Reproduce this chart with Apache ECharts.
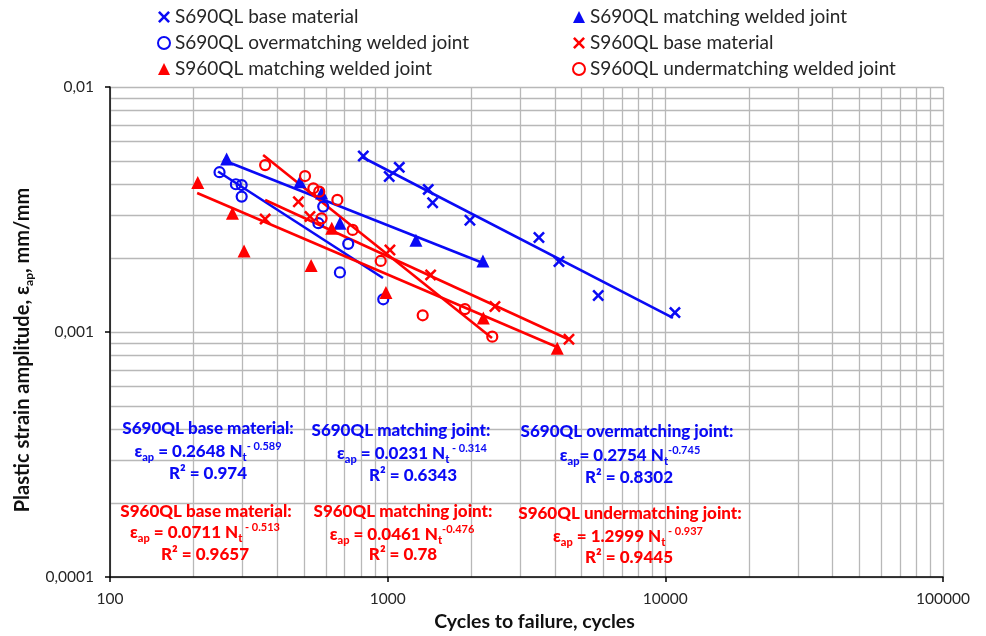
<!DOCTYPE html>
<html><head><meta charset="utf-8">
<script src="https://cdn.jsdelivr.net/npm/echarts@6/dist/echarts.min.js"></script>
<style>html,body{margin:0;padding:0;background:#fff}#c{width:986px;height:636px}</style>
</head><body><div id="c"></div>
<script>
const FONT = "Lato, 'Open Sans', 'Liberation Sans', sans-serif";
const BLUE = '#0a0af5';
const RED = '#ff0000';

// ---- data ----
const seriesNames = ['S690QL base material', 'S690QL matching welded joint', 'S690QL overmatching welded joint',
                     'S960QL base material', 'S960QL matching welded joint', 'S960QL undermatching welded joint'];

const s690BaseN = [817, 1013, 1101, 1400, 1452, 1978, 3506, 4139, 5733, 10829];
const s690BaseE = [0.00523, 0.00431, 0.00470, 0.00382, 0.00337, 0.00286, 0.00243, 0.00194, 0.00141, 0.00120];

const s690MatchN = [263, 483, 578, 673, 1264, 2204];
const s690MatchE = [0.00508, 0.00410, 0.00369, 0.00278, 0.00237, 0.00195];

const s690OverN = [248, 284, 298, 298, 586, 563, 721, 673, 964];
const s690OverE = [0.00449, 0.00401, 0.00398, 0.00357, 0.00325, 0.00278, 0.00229, 0.00175, 0.00136];

const s960BaseN = [362, 477, 525, 1019, 1428, 2434, 4497];
const s960BaseE = [0.00289, 0.00340, 0.00296, 0.00216, 0.00171, 0.00127, 0.000934];

const s960MatchN = [207, 276, 304, 530, 629, 986, 2210, 4080];
const s960MatchE = [0.00408, 0.00305, 0.00214, 0.00187, 0.00265, 0.00145, 0.00114, 0.000858];

const s960UnderN = [362, 504, 540, 567, 659, 578, 748, 944, 1337, 1898, 2381];
const s960UnderE = [0.00480, 0.00433, 0.00386, 0.00374, 0.00346, 0.00291, 0.00261, 0.00195, 0.00117, 0.00124, 0.000957];

// trend lines: [start, end]
const fit690BaseN = [808, 10652];   const fit690BaseE = [0.00518, 0.001141];
const fit690MatchN = [255, 2204];   const fit690MatchE = [0.005035, 0.001912];
const fit690OverN = [245, 962];     const fit690OverE = [0.00452, 0.001661];
const fit960BaseN = [362, 4534];    const fit960BaseE = [0.003458, 0.000928];
const fit960MatchN = [206, 4070];   const fit960MatchE = [0.003693, 0.000869];
const fit960UnderN = [356, 2375];   const fit960UnderE = [0.005278, 0.000945];

const xTickLabels = ['100', '1000', '10000', '100000'];
const yTickLabels = ['0,0001', '0,001', '0,01'];

// equation annotations
const eqTitle = ['S690QL base material:', 'S690QL matching joint:', 'S690QL overmatching joint:',
                 'S960QL base material:', 'S960QL matching joint:', 'S960QL undermatching joint:'];
const eqSign  = [' = ', ' = ', '= ', ' = ', ' = ', ' = '];
const eqCoef  = ['0.2648', '0.0231', '0.2754', '0.0711', '0.0461', '1.2999'];
const eqExp   = ['- 0.589', ' - 0.314', '-0.745', ' - 0.513', '-0.476', ' - 0.937'];
const eqR2    = ['0.974', '0.6343', '0.8302', '0.9657', '0.78', '0.9445'];
const eqColor = [BLUE, BLUE, BLUE, RED, RED, RED];

// ---- layout (pixel positions of annotation lines) ----
const eqPos = [
  {tx: 208, ty: 429, ex: 208, ey: 452, rx: 208, ry: 474},
  {tx: 401, ty: 431, ex: 412, ey: 454, rx: 413, ry: 476},
  {tx: 627, ty: 432, ex: 630, ey: 456, rx: 629, ry: 478},
  {tx: 206, ty: 512, ex: 205, ey: 533, rx: 205, ry: 555},
  {tx: 403, ty: 512, ex: 402, ey: 535, rx: 403, ry: 555},
  {tx: 630, ty: 514, ex: 628, ey: 537, rx: 629, ry: 558}
];

const pair = (a, b) => a.map((v, i) => [v, b[i]]);

const CROSS = 'path://M0,1.5L1.5,0L5,3.5L8.5,0L10,1.5L6.5,5L10,8.5L8.5,10L5,6.5L1.5,10L0,8.5L3.5,5Z';

function scatter(name, n, e, color, kind) {
  const s = {name: name, type: 'scatter', xAxisIndex: 0, yAxisIndex: 0, z: 5,
    data: pair(n, e)};
  if (kind === 'x') { s.symbol = CROSS; s.symbolSize = 12; s.itemStyle = {color: color, opacity: 1}; }
  if (kind === 'o') { s.symbol = 'circle'; s.symbolSize = 10; s.itemStyle = {color: 'rgba(255,255,255,0)', borderColor: color, borderWidth: 2.2, opacity: 1}; }
  if (kind === 't') { s.symbol = 'triangle'; s.symbolSize = 13; s.itemStyle = {color: color, opacity: 1}; }
  return s;
}
function fit(name, n, e, color) {
  return {name: name, type: 'line', xAxisIndex: 0, yAxisIndex: 0, z: 4, data: pair(n, e),
    showSymbol: false, symbol: 'none', silent: true,
    lineStyle: {color: color, width: 2.6}, itemStyle: {color: color}};
}

// gridline positions (1..9 x 10^k)
const xGridVals = [];
for (let k = 2; k <= 4; k++) for (let m = 1; m <= 9; m++) xGridVals.push(m * Math.pow(10, k));
xGridVals.push(100000);
const yGridVals = [];
for (let k = -4; k <= -3; k++) for (let m = 1; m <= 9; m++) yGridVals.push(+(m * Math.pow(10, k)).toPrecision(3));
yGridVals.push(0.01);

function fmtX(v) { const k = Math.round(Math.log10(v)); return xTickLabels[k - 2] || ''; }
function fmtY(v) { const k = Math.round(Math.log10(v)); return yTickLabels[k + 4] || ''; }

const titles = [];
eqTitle.forEach((t, i) => {
  const c = eqColor[i], p = eqPos[i];
  const rich = {
    m: {fontSize: 17, fontWeight: 900, fontFamily: FONT, color: c, lineHeight: 22},
    s: {fontSize: 11, fontWeight: 900, fontFamily: FONT, color: c, lineHeight: 10, verticalAlign: 'bottom'},
    p: {fontSize: 11, fontWeight: 'bold', fontFamily: FONT, color: c, lineHeight: 12, verticalAlign: 'top'}
  };
  const base = {textAlign: 'center', textVerticalAlign: 'middle', padding: 0, z: 10};
  titles.push(Object.assign({}, base, {left: p.tx, top: p.ty, text: '{m|' + t + '}', textStyle: {rich: rich}}));
  titles.push(Object.assign({}, base, {left: p.ex, top: p.ey,
    text: '{m|ε}{s|ap}{m|' + eqSign[i] + eqCoef[i] + ' N}{s|t}{p|' + eqExp[i] + '}', textStyle: {rich: rich}}));
  titles.push(Object.assign({}, base, {left: p.rx, top: p.ry, text: '{m|R² = ' + eqR2[i] + '}', textStyle: {rich: rich}}));
});

const legendText = {fontFamily: FONT, fontSize: 19, color: '#262626', lineHeight: 20};

const option = {
  animation: false,
  backgroundColor: '#ffffff',
  title: titles,
  legend: [
    {data: [seriesNames[0], seriesNames[2], seriesNames[4]], orient: 'vertical', left: 157, top: 7,
     itemWidth: 12, itemHeight: 12, itemGap: 6, textStyle: legendText, selectedMode: false, padding: 0},
    {data: [seriesNames[1], seriesNames[3], seriesNames[5]], orient: 'vertical', left: 572, top: 7,
     itemWidth: 12, itemHeight: 12, itemGap: 6, textStyle: legendText, selectedMode: false, padding: 0}
  ],
  grid: {left: 110, right: 43, top: 87, bottom: 59, containLabel: false, outerBoundsMode: 'none'},
  xAxis: [
    {type: 'log', logBase: 10, min: 100, max: 100000, position: 'bottom',
     name: 'Cycles to failure, cycles', nameLocation: 'middle', nameGap: 34,
     nameTextStyle: {fontFamily: FONT, fontSize: 19.5, fontWeight: 'bold', color: '#111', padding: [0, 0, 0, 16]},
     axisLine: {show: true, lineStyle: {color: '#000', width: 1.5}},
     axisTick: {show: true, inside: false, length: 5, lineStyle: {color: '#000', width: 1.5}},
     axisLabel: {formatter: fmtX, fontFamily: FONT, fontSize: 15.5, color: '#262626', margin: 14},
     splitLine: {show: false}, minorTick: {show: false}},
    {type: 'log', logBase: 10, min: 100, max: 100000, position: 'top',
     axisLine: {show: false}, axisLabel: {show: false},
     axisTick: {show: false, customValues: xGridVals},
     splitLine: {show: true, lineStyle: {color: '#b8b8b8', width: 1.3}}}
  ],
  yAxis: [
    {type: 'log', logBase: 10, min: 0.0001, max: 0.01, position: 'left',
     name: '{n|Plastic strain amplitude, ε}{s|ap}{n|, mm/mm}', nameLocation: 'middle', nameGap: 56,
     nameTextStyle: {padding: [0, 36, 0, 0],
       rich: {n: {fontFamily: FONT, fontSize: 20, fontWeight: 'bold', color: '#111', lineHeight: 24},
              s: {fontFamily: FONT, fontSize: 12, fontWeight: 'bold', color: '#111', lineHeight: 12, verticalAlign: 'bottom'}}},
     axisLine: {show: true, lineStyle: {color: '#000', width: 1.5}},
     axisTick: {show: true, inside: false, length: 5, lineStyle: {color: '#000', width: 1.5}},
     axisLabel: {formatter: fmtY, fontFamily: FONT, fontSize: 15.5, color: '#262626', margin: 16},
     splitLine: {show: false}, minorTick: {show: false}},
    {type: 'log', logBase: 10, min: 0.0001, max: 0.01, position: 'right',
     axisLine: {show: false}, axisLabel: {show: false},
     axisTick: {show: false, customValues: yGridVals},
     splitLine: {show: true, lineStyle: {color: '#b8b8b8', width: 1.3}}}
  ],
  series: [
    fit('fit S690QL base', fit690BaseN, fit690BaseE, BLUE),
    fit('fit S690QL matching', fit690MatchN, fit690MatchE, BLUE),
    fit('fit S690QL overmatching', fit690OverN, fit690OverE, BLUE),
    fit('fit S960QL base', fit960BaseN, fit960BaseE, RED),
    fit('fit S960QL matching', fit960MatchN, fit960MatchE, RED),
    fit('fit S960QL undermatching', fit960UnderN, fit960UnderE, RED),
    scatter(seriesNames[0], s690BaseN, s690BaseE, BLUE, 'x'),
    scatter(seriesNames[1], s690MatchN, s690MatchE, BLUE, 't'),
    scatter(seriesNames[2], s690OverN, s690OverE, BLUE, 'o'),
    scatter(seriesNames[3], s960BaseN, s960BaseE, RED, 'x'),
    scatter(seriesNames[4], s960MatchN, s960MatchE, RED, 't'),
    scatter(seriesNames[5], s960UnderN, s960UnderE, RED, 'o')
  ]
};

const chart = echarts.init(document.getElementById('c'), null, {renderer: 'canvas'});
chart.setOption(option);
</script>
</body></html>
